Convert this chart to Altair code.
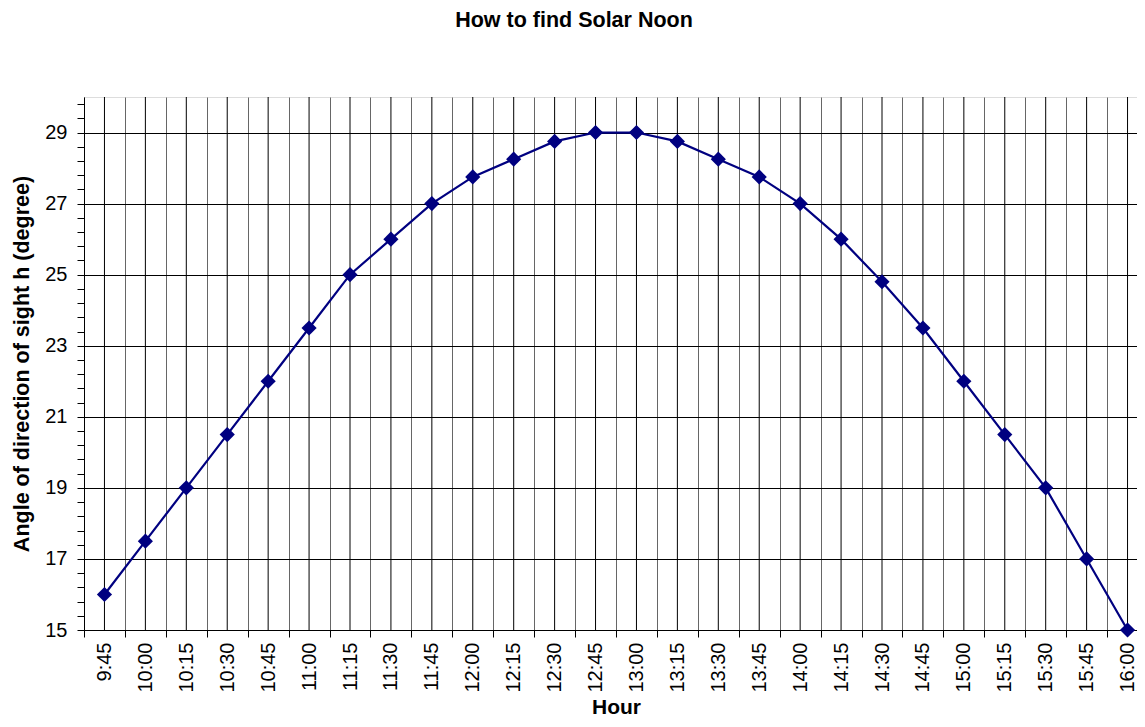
import altair as alt
import pandas as pd

hours = ["9:45", "10:00", "10:15", "10:30", "10:45", "11:00", "11:15", "11:30",
         "11:45", "12:00", "12:15", "12:30", "12:45", "13:00", "13:15", "13:30",
         "13:45", "14:00", "14:15", "14:30", "14:45", "15:00", "15:15", "15:30",
         "15:45", "16:00"]
angles = [16, 17.5, 19, 20.5, 22, 23.5, 25, 26, 27, 27.75, 28.25, 28.75, 29, 29,
          28.75, 28.25, 27.75, 27, 26, 24.8, 23.5, 22, 20.5, 19, 17, 15]
y_ticks = [round(15 + 0.4 * i, 1) for i in range(38)]

df = pd.DataFrame({"Hour": hours, "Angle": angles})

FONT = "Liberation Sans"
W = 1064
H = 533

major = "abs(datum.value - round(datum.value)) < 0.01 && round(datum.value) % 2 == 1"

x_enc = alt.X(
    "Hour:N", sort=hours,
    scale=alt.Scale(type="band", paddingInner=0, paddingOuter=0),
    axis=alt.Axis(
        title="Hour", titleFont=FONT, titleFontSize=21, titleFontWeight="bold",
        titleColor="black", titlePadding=4,
        labelFont=FONT, labelFontSize=20, labelColor="black", labelAngle=-90,
        labelPadding=5, labelOverlap=False,
        tickBand="extent", tickSize=7, tickColor="black",
        grid=True, gridColor="#666666", gridWidth=1,
        domainColor="black", domainWidth=1,
    ),
)

y_enc = alt.Y(
    "Angle:Q",
    scale=alt.Scale(domain=[15, 30], nice=False, zero=False),
    axis=alt.Axis(
        title="Angle of direction of sight h (degree)", titleFont=FONT,
        titleFontSize=21.5, titleFontWeight="bold", titleColor="black",
        titlePadding=11,
        values=y_ticks,
        labelExpr="(" + major + ") ? format(datum.value, 'd') : ''",
        labelFont=FONT, labelFontSize=20, labelColor="black", labelPadding=10,
        labelOverlap=False,
        tickSize=7, tickColor="black",
        grid=True, gridColor="black", gridWidth=1,
        gridOpacity=alt.condition(major, alt.value(1), alt.value(0)),
        domainColor="black", domainWidth=1,
    ),
)

rules = alt.Chart(df).mark_rule(color="black", strokeWidth=1).encode(
    x=alt.X("Hour:N", sort=hours)
)

line = alt.Chart(df).mark_line(
    color="#000080", strokeWidth=2.2,
    point=alt.OverlayMarkDef(shape="diamond", size=230, filled=True,
                             color="#000080", opacity=1),
).encode(x=x_enc, y=y_enc)

chart = alt.layer(rules, line).properties(
    width=W, height=H,
    autosize=alt.AutoSizeParams(type="none"),
    padding={"left": 76, "top": 89, "right": -11, "bottom": 89},
    title=alt.TitleParams(
        "How to find Solar Noon", font=FONT, fontSize=21.5, fontWeight="bold",
        color="black", anchor="middle", dx=-42, offset=46, baseline="alphabetic",
    ),
).configure_view(
    fill="#C0C0C0", stroke="#808080", strokeWidth=2
).configure(background="white")

chart.save("out.html", embed_options={"renderer": "svg", "actions": False})
